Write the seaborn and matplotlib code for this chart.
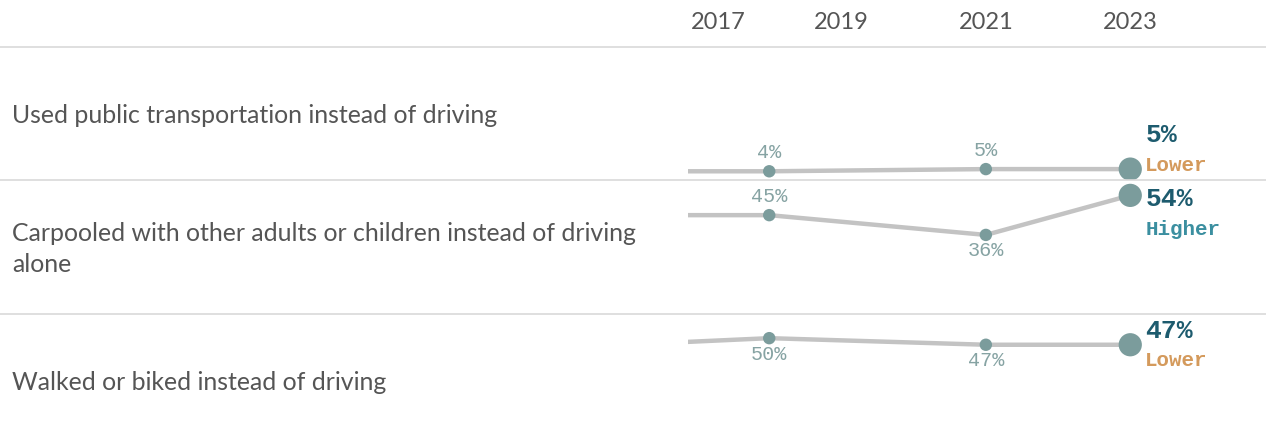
import matplotlib
matplotlib.use("Agg")
import matplotlib.pyplot as plt
import seaborn as sns
import pandas as pd

# data
years = [2016, 2018, 2021, 2023]
row_labels = [
    "Used public transportation instead of driving",
    "Carpooled with other adults or children instead of driving\nalone",
    "Walked or biked instead of driving",
]
public_transport = [4, 4, 5, 5]
carpool = [45, 45, 36, 54]
walk_bike = [47, 50, 47, 47]
series = [public_transport, carpool, walk_bike]
direction = ["Lower", "Higher", "Lower"]
tick_years = [2017, 2019, 2021, 2023]

# colours
LINE = "#c3c3c3"
MARK = "#7b9c9c"
SMALL = "#86a3a3"
BIG = "#1d5b6e"
DIR_COL = {"Lower": "#d49a5c", "Higher": "#3b8fa0"}
SEP = "#d9d9d9"
TXT = "#555555"

sns.set_theme(style="white")
plt.rcParams['font.family'] = ['Lato', 'DejaVu Sans']
MONO = ['Liberation Mono', 'DejaVu Sans Mono']

W, H = 1266, 444
fig = plt.figure(figsize=(W / 100, H / 100), dpi=100)

# row bands in pixels (top, bottom)
rows_px = [(47, 180), (180, 314), (314, 448)]
x0 = 688

# label placement per row: small labels above/below, big label offsets (px)
small_pos = [["above", "above"], ["above", "below"], ["below", "below"]]
big_off = [(34, 4), (-4, -34), (14, -16)]

for i, (top, bot) in enumerate(rows_px):
    ax = fig.add_axes([x0 / W, 1 - bot / H, 1 - x0 / W, (bot - top) / H])
    df = pd.DataFrame({"year": years, "pct": series[i]})
    sns.lineplot(data=df, x="year", y="pct", ax=ax, color=LINE, lw=3.2, zorder=1)
    sns.scatterplot(data=df.iloc[1:3], x="year", y="pct", ax=ax, color=MARK,
                    s=80, edgecolor="none", zorder=3)
    sns.scatterplot(data=df.iloc[3:], x="year", y="pct", ax=ax, color=MARK,
                    s=280, edgecolor="none", zorder=3)
    ax.set_xlim(2016.875, 2024.88)
    ax.set_ylim(0, 61)
    ax.axis("off")

    for j, k in enumerate([1, 2]):
        up = small_pos[i][j] == "above"
        ax.annotate(f"{series[i][k]}%", (years[k], series[i][k]),
                    xytext=(0, 19 if up else -16), textcoords="offset pixels",
                    ha="center", va="center", fontsize=14.5, color=SMALL, family=MONO)

    yv, yd = big_off[i]
    ax.annotate(f"{series[i][-1]}%", (years[-1], series[i][-1]),
                xytext=(15, yv), textcoords="offset pixels", ha="left", va="center",
                fontsize=19, fontweight="bold", color=BIG, family=MONO)
    ax.annotate(direction[i], (years[-1], series[i][-1]),
                xytext=(15, yd), textcoords="offset pixels", ha="left", va="center",
                fontsize=15, fontweight="bold", color=DIR_COL[direction[i]], family=MONO)

    # row label
    fig.text(12 / W, 1 - ((top + min(bot, 448)) / 2 + 2) / H, row_labels[i],
             ha="left", va="center", fontsize=17.9, color=TXT, linespacing=1.45)

    if i == 0:
        xl = ax.get_xlim()[0]
        for t, yr in enumerate(tick_years):
            ax.text(xl + 0.04 if t == 0 else yr, 1 + 25 / 133, str(yr),
                    transform=ax.get_xaxis_transform(),
                    ha="left" if t == 0 else "center", va="center",
                    fontsize=17, color=TXT)

# separators
for y in [47, 180, 314]:
    fig.add_artist(plt.Line2D([0, 1], [1 - y / H, 1 - y / H], color=SEP, lw=1.2))

fig.savefig("out.png", dpi=100, facecolor="white")
